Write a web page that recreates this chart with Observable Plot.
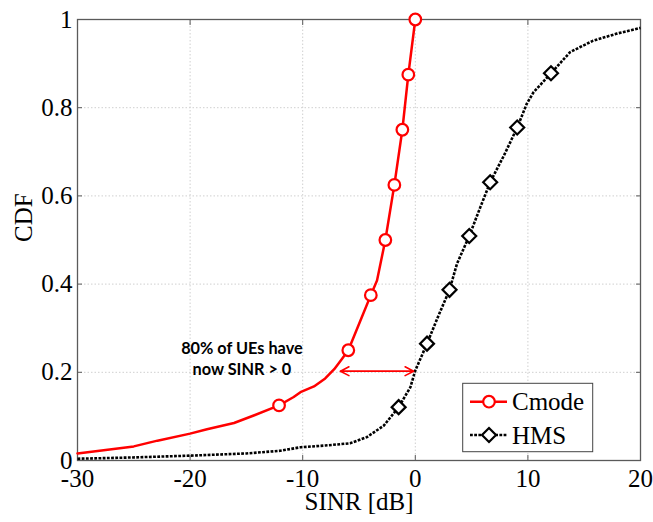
<!DOCTYPE html>
<html><head><meta charset="utf-8">
<script src="https://cdn.jsdelivr.net/npm/d3@7"></script>
<script src="https://cdn.jsdelivr.net/npm/@observablehq/plot@0.6"></script>
<style>body{margin:0;background:#fff} #chart{position:relative;width:653px;height:522px}</style>
</head><body><div id="chart"></div>
<script>
// ---- data ----
const xTicks = [-30, -20, -10, 0, 10, 20];
const yTicks = [0, 0.2, 0.4, 0.6, 0.8, 1];

const cmodeX = [-30, -27.5, -25, -22.9, -20, -18.5, -16.1, -14.35, -12.1, -10.8, -10.2, -9, -8, -7.2, -6.5, -5.95, -4.88, -3.95, -3.4, -2.66, -1.86, -1.15, -0.62, 0];
const cmodeY = [0.016, 0.024, 0.032, 0.045, 0.061, 0.071, 0.085, 0.102, 0.125, 0.144, 0.155, 0.168, 0.186, 0.207, 0.231, 0.25, 0.317, 0.375, 0.408, 0.5, 0.625, 0.75, 0.875, 1.0];
const cmodeMarkX = [-12.1, -5.95, -3.95, -2.66, -1.86, -1.15, -0.62, 0];
const cmodeMarkY = [0.125, 0.25, 0.375, 0.5, 0.625, 0.75, 0.875, 1.0];

const hmsX = [-30, -25, -20, -15, -12, -10.2, -8, -5.8, -4.3, -2.8, -1.48, -0.44, 0, 1.04, 2.0, 3.04, 3.7, 4.79, 5.77, 6.65, 7.9, 9.05, 9.9, 10.5, 12.05, 13.75, 14.6, 15.8, 17.9, 20];
const hmsY = [0.004, 0.007, 0.011, 0.016, 0.022, 0.03, 0.034, 0.039, 0.053, 0.079, 0.121, 0.166, 0.204, 0.265, 0.325, 0.387, 0.446, 0.509, 0.574, 0.631, 0.693, 0.755, 0.809, 0.835, 0.878, 0.926, 0.937, 0.952, 0.968, 0.981];
const hmsMarkX = [-1.48, 1.04, 3.04, 4.79, 6.65, 9.05, 12.05];
const hmsMarkY = [0.121, 0.265, 0.387, 0.509, 0.631, 0.755, 0.878];

const arrowX1 = [-6.65], arrowX2 = [-0.15], arrowY = [0.2025];
const noteX = [-15.4], noteY = [0.2335];
const noteText = ["80% of UEs have\nnow SINR > 0"];

const seriesNames = ["Cmode", "HMS"];
const xLabel = "SINR [dB]", yLabel = "CDF";

// ---- chart ----
const serif = "Liberation Serif, Times New Roman, serif";
const sans = "Lato, Open Sans, sans-serif";
const RED = "#ff0000";
const axisColor = "#5a5a5a";
const dash = "2.8,1.4";

const chart = Plot.plot({
  width: 653, height: 522,
  marginTop: 19, marginLeft: 77, marginRight: 13, marginBottom: 62,
  style: {fontFamily: serif, fontSize: "25px", color: "#000", background: "#fff"},
  x: {domain: [-30, 20], label: null},
  y: {domain: [0, 1], label: null},
  marks: [
    Plot.gridX(xTicks, {stroke: "#cfcfcf", strokeOpacity: 1, strokeDasharray: "1.5,2"}),
    Plot.gridY(yTicks, {stroke: "#cfcfcf", strokeOpacity: 1, strokeDasharray: "1.5,2"}),
    Plot.frame({stroke: axisColor, strokeWidth: 1.3}),
    Plot.axisX(xTicks, {anchor: "bottom", tickSize: -5, tickFormat: () => "", color: axisColor, label: null}),
    Plot.axisX(xTicks, {anchor: "top", tickSize: -5, tickFormat: () => "", color: axisColor, label: null}),
    Plot.axisY(yTicks, {anchor: "left", tickSize: -5, tickFormat: () => "", color: axisColor, label: null}),
    Plot.axisY(yTicks, {anchor: "right", tickSize: -5, tickFormat: () => "", color: axisColor, label: null}),
    Plot.axisX(xTicks, {anchor: "bottom", tickSize: 0, tickPadding: 9, tickFormat: d => String(d), color: "#000", label: null, fontFamily: serif, fontSize: 25}),
    Plot.axisY(yTicks, {anchor: "left", tickSize: 0, tickPadding: 5, tickFormat: d => String(d), color: "#000", label: null, fontFamily: serif, fontSize: 25}),
    Plot.text([xLabel], {frameAnchor: "bottom", dy: 49.5, lineAnchor: "bottom", fill: "#000", fontSize: 25, fontFamily: serif}),
    Plot.text([yLabel], {frameAnchor: "left", rotate: -90, dx: -46, dy: 2, lineAnchor: "bottom", fill: "#000", fontSize: 25, fontFamily: serif}),
    Plot.line(hmsX, {x: hmsX, y: hmsY, stroke: "#000", strokeWidth: 2.6, strokeDasharray: dash, strokeLinecap: "butt", strokeLinejoin: "miter"}),
    Plot.dot(hmsMarkX, {x: hmsMarkX, y: hmsMarkY, symbol: "diamond2", r: 6.3, fill: "#fff", stroke: "#000", strokeWidth: 2.2}),
    Plot.line(cmodeX, {x: cmodeX, y: cmodeY, stroke: RED, strokeWidth: 2.5}),
    Plot.dot(cmodeMarkX, {x: cmodeMarkX, y: cmodeMarkY, r: 5.8, fill: "#fff", stroke: RED, strokeWidth: 2.2}),
    Plot.arrow(arrowY, {x1: arrowX1, x2: arrowX2, y1: arrowY, y2: arrowY, stroke: RED, strokeWidth: 1.6, headLength: 9, headAngle: 55, bend: 0}),
    Plot.arrow(arrowY, {x1: arrowX2, x2: arrowX1, y1: arrowY, y2: arrowY, stroke: RED, strokeWidth: 1.6, headLength: 9, headAngle: 55, bend: 0}),
    Plot.text(noteText, {x: noteX, y: noteY, text: d => d, fontFamily: sans, fontWeight: "bold", fontSize: 16.3, lineHeight: 1.28, fill: "#000", textAnchor: "middle"})
  ]
});

// ---- legend (inside plot, lower right) ----
const svg = d3.select(chart);
const lg = svg.append("g").attr("font-family", serif).attr("font-size", 25).attr("text-anchor", "start");
lg.append("rect").attr("x", 462.7).attr("y", 383.3).attr("width", 130).attr("height", 68.4)
  .attr("fill", "#fff").attr("stroke", "#444").attr("stroke-width", 1);
const rows = [
  {name: seriesNames[0], y: 401.7, color: RED, dash: null, sym: "circle"},
  {name: seriesNames[1], y: 435, color: "#000", dash: dash, sym: "diamond"}
];
rows.forEach(r => {
  lg.append("line").attr("x1", 470).attr("x2", 507).attr("y1", r.y).attr("y2", r.y)
    .attr("stroke", r.color).attr("stroke-width", 2.5).attr("stroke-dasharray", r.dash);
  if (r.sym === "circle") {
    lg.append("circle").attr("cx", 489).attr("cy", r.y).attr("r", 5.8)
      .attr("fill", "#fff").attr("stroke", r.color).attr("stroke-width", 2.2);
  } else {
    lg.append("path").attr("transform", `translate(489,${r.y})`)
      .attr("d", d3.symbol(d3.symbolDiamond2, Math.PI * 6.3 * 6.3)())
      .attr("fill", "#fff").attr("stroke", r.color).attr("stroke-width", 2.2);
  }
  lg.append("text").attr("x", 512).attr("y", r.y + 8.5).attr("fill", "#000").attr("text-anchor", "start").text(r.name);
});

document.getElementById("chart").appendChild(chart);
</script>
</body></html>
